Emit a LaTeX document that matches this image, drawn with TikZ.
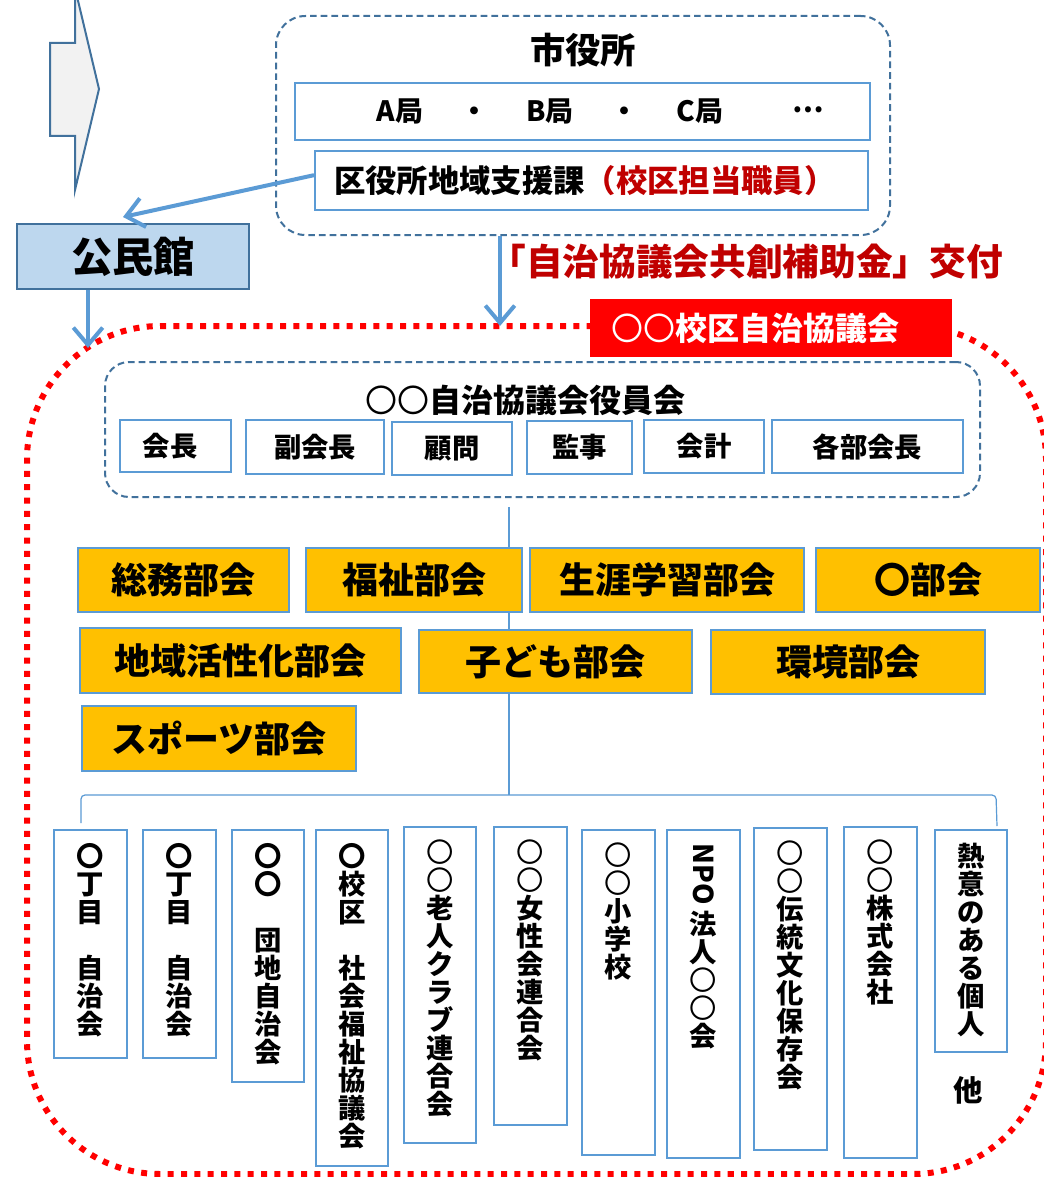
\documentclass[tikz,border=0pt]{standalone}
\usepackage{fontspec}
\setmainfont{Noto Sans CJK JP}
\usepackage{graphicx}
\usetikzlibrary{arrows.meta}
\definecolor{dkblue}{HTML}{41719C}
\definecolor{ltblue}{HTML}{5B9BD5}
\definecolor{orng}{HTML}{FFC000}
\definecolor{dkred}{HTML}{C00000}
\definecolor{pale}{HTML}{BDD7EE}
\definecolor{grayf}{HTML}{F2F2F2}
\newcommand\vfont{\fontsize{20.5}{21}\selectfont\bfseries\lineskiplimit=-30pt\lineskip=0pt}
\newcommand\tc{{\mdseries 〇}}
\newcommand\mybox[7][]{\node[#1, minimum width={(#5-#3)*0.75pt}, minimum height={(#6-#4)*0.75pt}] (#2) at ({(#3+#5)/2},{(#4+#6)/2}) {#7};}
\begin{document}
\begin{tikzpicture}[x=0.75pt,y=-0.75pt,
  dashgroup/.style={draw=dkblue, line width=1.5pt, dash pattern=on 5pt off 3pt, rounded corners=22pt, inner sep=0pt},
  plainbox/.style={draw=ltblue, line width=1.5pt, fill=white, inner sep=0pt},
  officer/.style={plainbox, font=\fontsize{20.5}{24}\selectfont\bfseries},
  orangebox/.style={draw=ltblue, line width=1.5pt, fill=orng, inner sep=0pt, font=\fontsize{27}{32}\selectfont\bfseries},
  bluearrow/.style={draw=ltblue, line width=3pt, -{Straight Barb[length=13pt,width=22pt]}},
  thinline/.style={draw=ltblue, line width=0.9pt},
  vtext/.style={inner sep=0pt, align=center, anchor=north, font=\vfont},
  reddot/.style={draw=red, line width=4.5pt, dash pattern=on 4.5pt off 5.5pt, rounded corners=100pt, inner sep=0pt},
  redlabel/.style={fill=red, draw=none, text=white, inner sep=0pt, font=\fontsize{24}{28}\selectfont\bfseries},
]
\useasboundingbox (0,0) rectangle (1044,1177);
\fill[white] (0,0) rectangle (1044,1177);
\clip (0,0) rectangle (1044,1177);

% block arrow (top left)
\filldraw[fill=grayf, draw=dkblue, line width=1.5pt, line join=miter]
  (50,43) -- (75,43) -- (75,-12) -- (99,89) -- (75,190) -- (75,136) -- (50,136) -- cycle;

% city hall group
\mybox[dashgroup]{cityhall}{276}{16}{890}{235}{}
\node[font=\fontsize{26.5}{30}\selectfont\bfseries] (cityname) at (583,50) {市役所};
\mybox[plainbox]{bureaubox}{295}{83}{870}{140}{}
\node[font=\fontsize{21}{25}\selectfont\bfseries, inner sep=0pt] (bureaus) at (620.5,111)
  {\makebox[56.25pt]{A局}\makebox[56.25pt]{・}\makebox[56.25pt]{B局}\makebox[56.25pt]{・}\makebox[56.25pt]{C局}\makebox[105.75pt]{\raisebox{0.3em}{…}}};
\mybox[plainbox, font=\fontsize{23.5}{27}\selectfont\bfseries]{kuyaku}{315}{151}{868}{210}{区役所地域支援課{\color{dkred}（校区担当職員）}\hspace*{10pt}}

% kominkan
\mybox[draw=dkblue, fill=pale, line width=1.5pt, inner sep=0pt, font=\fontsize{31}{36}\selectfont\bfseries]{kominkan}{17}{224}{249}{289}{公民館}

% subsidy text
\node[text=dkred, font=\fontsize{27.5}{32}\selectfont\bfseries, inner sep=0pt] (subsidy) at (746,262) {「自治協議会共創補助金」交付};

% council boundary
\mybox[reddot]{council}{27}{326}{1046}{1174}{}
\mybox[redlabel]{councillabel}{590}{299}{952}{357}{\tc\tc 校区自治協議会\hspace*{24pt}}

% arrows
\coordinate (a1end) at (88,348);
\coordinate (a2end) at (500,326);
\draw[bluearrow] ([yshift=4pt]kuyaku.west) -- ([xshift=-7.5pt,yshift=4.5pt]kominkan.north);
\draw[bluearrow] (kominkan.south -| a1end) -- (a1end);
\draw[bluearrow] (cityhall.south -| a2end) -- (a2end);

% officers group
\mybox[dashgroup, rounded corners=18pt]{yakuin}{105}{362}{980}{497}{}
\node[font=\fontsize{24}{28}\selectfont\bfseries] (yakuintitle) at (525,400) {\tc\tc 自治協議会役員会};
\mybox[officer]{o1}{120}{420}{231}{472}{会長\hspace*{8pt}}
\mybox[officer]{o2}{246}{420}{384}{474}{副会長}
\mybox[officer]{o3}{392}{422}{512}{475}{顧問}
\mybox[officer]{o4}{527}{421}{632}{474}{監事}
\mybox[officer]{o5}{644}{420}{764}{473}{会計}
\mybox[officer]{o6}{772}{420}{963}{473}{各部会長}

% trunk line
\coordinate (vtop) at (509,507);
\coordinate (brTop) at (509,795);
\coordinate (brL) at (81,823);
\coordinate (brR) at (997,826);
\draw[thinline] (vtop) -- (brTop);
\draw[thinline, rounded corners=3pt] (brL) -- (81,795) -- (996,795) -- (brR);

% committees
\mybox[orangebox]{c1}{78}{548}{289}{612}{総務部会}
\mybox[orangebox]{c2}{306}{548}{522}{612}{福祉部会}
\mybox[orangebox]{c3}{530}{548}{804}{612}{生涯学習部会}
\mybox[orangebox]{c4}{816}{548}{1040}{612}{〇部会}
\mybox[orangebox]{c5}{80}{628}{401}{693}{地域活性化部会}
\mybox[orangebox]{c6}{419}{630}{692}{693}{子ども部会}
\mybox[orangebox]{c7}{711}{630}{985}{694}{環境部会}
\mybox[orangebox]{c8}{82}{706}{356}{771}{スポーツ部会}

% member organisations
\mybox[plainbox]{m1}{54}{830}{127}{1058}{}
\mybox[plainbox]{m2}{143}{830}{216}{1058}{}
\mybox[plainbox]{m3}{232}{830}{304}{1082}{}
\mybox[plainbox]{m4}{316}{830}{388}{1166}{}
\mybox[plainbox]{m5}{404}{827}{476}{1143}{}
\mybox[plainbox]{m6}{494}{827}{567}{1125}{}
\mybox[plainbox]{m7}{582}{830}{655}{1155}{}
\mybox[plainbox]{m8}{667}{830}{740}{1158}{}
\mybox[plainbox]{m9}{754}{828}{827}{1150}{}
\mybox[plainbox]{m10}{844}{827}{917}{1158}{}
\mybox[plainbox]{m11}{935}{830}{1007}{1052}{}

\node[vtext] (t1) at ([yshift=-10.5pt]m1.north) {〇\\丁\\目\\　\\自\\治\\会};
\node[vtext] (t2) at ([yshift=-10.5pt]m2.north) {〇\\丁\\目\\　\\自\\治\\会};
\node[vtext] (t3) at ([yshift=-10.5pt]m3.north) {〇\\〇\\　\\団\\地\\自\\治\\会};
\node[vtext] (t4) at ([yshift=-10.5pt]m4.north) {〇\\校\\区\\　\\社\\会\\福\\祉\\協\\議\\会};
\node[vtext] (t5) at ([yshift=-10.5pt]m5.north) {\tc\\\tc\\老\\人\\ク\\ラ\\ブ\\連\\合\\会};
\node[vtext] (t6) at ([yshift=-10.5pt]m6.north) {\tc\\\tc\\女\\性\\会\\連\\合\\会};
\node[vtext] (t7) at ([yshift=-10.5pt]m7.north) {\tc\\\tc\\小\\学\\校};
\node[rotate=-90, anchor=west, inner sep=0pt, font=\fontsize{20.5}{24}\selectfont\bfseries] (t8a) at ([yshift=-11pt]m8.north) {NPO};
\node[vtext] (t8b) at ([yshift=-4pt]t8a.east) {法\\人\\\tc\\\tc\\会};
\node[vtext] (t9) at ([yshift=-10.5pt]m9.north) {\tc\\\tc\\伝\\統\\文\\化\\保\\存\\会};
\node[vtext] (t10) at ([yshift=-10.5pt]m10.north) {\tc\\\tc\\株\\式\\会\\社};
\node[vtext] (t11) at ([yshift=-10.5pt]m11.north) {熱\\意\\の\\あ\\る\\個\\人};
\node[font=\fontsize{22}{26}\selectfont\bfseries] (other) at (968,1090) {他};
\end{tikzpicture}
\end{document}
